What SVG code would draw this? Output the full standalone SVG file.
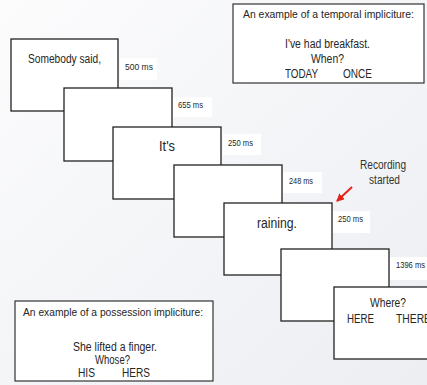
<svg xmlns="http://www.w3.org/2000/svg" width="427" height="385" viewBox="0 0 427 385">
<defs>
<linearGradient id="bg" x1="0" y1="0" x2="1" y2="1">
<stop offset="0" stop-color="#fcfcfd"/>
<stop offset="1" stop-color="#eceef2"/>
</linearGradient>
<marker id="ah" markerWidth="8" markerHeight="8" refX="7" refY="4" orient="auto" markerUnits="userSpaceOnUse">
<path d="M0,0 L8,4 L0,8 z" fill="#e8201a"/>
</marker>
<style>
.slide{fill:#fff;stroke:#222;stroke-width:1.3}
.box{fill:#fff;stroke:#333;stroke-width:1.2}
.lab{fill:#fff}
text{font-family:"Liberation Sans Narrow","Liberation Sans",Arial,sans-serif;fill:#262626}
.ms{font-size:9px}
.big{font-size:14px}
.mid{font-size:12px}
.sm{font-size:11px}
</style>
</defs>
<rect width="427" height="385" fill="url(#bg)"/>
<g id="temporal">
<rect class="box" x="233" y="4" width="191" height="79"/>
<text class="sm" x="243" y="18" textLength="171" lengthAdjust="spacingAndGlyphs">An example of a temporal impliciture:</text>
<text class="mid" x="285" y="48" textLength="85" lengthAdjust="spacingAndGlyphs">I've had breakfast.</text>
<text class="mid" x="311" y="63" textLength="33" lengthAdjust="spacingAndGlyphs">When?</text>
<text class="mid" x="285" y="78" textLength="33" lengthAdjust="spacingAndGlyphs">TODAY</text>
<text class="mid" x="343" y="78" textLength="29" lengthAdjust="spacingAndGlyphs">ONCE</text>
</g>
<g id="slide1">
<rect class="slide" x="11" y="39" width="107" height="72"/>
<text class="mid" x="28" y="63" textLength="73" lengthAdjust="spacingAndGlyphs">Somebody said,</text>
<rect class="lab" x="120" y="58" width="37" height="22"/>
<text class="ms" x="125" y="70" textLength="28" lengthAdjust="spacingAndGlyphs">500 ms</text>
</g>
<g id="slide2">
<rect class="slide" x="64" y="88" width="108" height="73"/>
<rect class="lab" x="173" y="97" width="39" height="20"/>
<text class="ms" x="178" y="108" textLength="25" lengthAdjust="spacingAndGlyphs">655 ms</text>
</g>
<g id="slide3">
<rect class="slide" x="113" y="127" width="108" height="72"/>
<text class="big" x="159" y="151" textLength="16" lengthAdjust="spacingAndGlyphs">It's</text>
<rect class="lab" x="223" y="134" width="38" height="21"/>
<text class="ms" x="228" y="146" textLength="25" lengthAdjust="spacingAndGlyphs">250 ms</text>
</g>
<g id="slide4">
<rect class="slide" x="174" y="165" width="108" height="72"/>
<rect class="lab" x="283" y="172" width="39" height="21"/>
<text class="ms" x="289" y="184" textLength="24" lengthAdjust="spacingAndGlyphs">248 ms</text>
</g>
<g id="slide5">
<rect class="slide" x="224" y="203" width="108" height="72"/>
<text class="big" x="257" y="228" textLength="40" lengthAdjust="spacingAndGlyphs">raining.</text>
<rect class="lab" x="333" y="211" width="37" height="22"/>
<text class="ms" x="338" y="222" textLength="25" lengthAdjust="spacingAndGlyphs">250 ms</text>
</g>
<g id="recording">
<text class="mid" x="383" y="169" text-anchor="middle" style="fill:#333" textLength="46" lengthAdjust="spacingAndGlyphs">Recording</text>
<text class="mid" x="384.5" y="184" text-anchor="middle" style="fill:#333" textLength="31" lengthAdjust="spacingAndGlyphs">started</text>
</g>
<g id="slide6">
<rect class="slide" x="281" y="249" width="108" height="72"/>
<rect class="lab" x="390" y="257" width="40" height="23"/>
<text class="ms" x="396" y="268" textLength="29" lengthAdjust="spacingAndGlyphs">1396 ms</text>
</g>
<g id="slide7">
<rect class="slide" x="334" y="287" width="108" height="72"/>
<text class="mid" x="370" y="307" textLength="36" lengthAdjust="spacingAndGlyphs">Where?</text>
<text class="mid" x="347" y="323" textLength="27" lengthAdjust="spacingAndGlyphs">HERE</text>
<text class="mid" x="396" y="323" textLength="35" lengthAdjust="spacingAndGlyphs">THERE</text>
</g>
<g id="possession">
<rect class="box" x="15" y="301" width="198" height="80"/>
<text class="sm" x="23" y="316" textLength="180" lengthAdjust="spacingAndGlyphs">An example of a possession impliciture:</text>
<text class="mid" x="73" y="351" textLength="84" lengthAdjust="spacingAndGlyphs">She lifted a finger.</text>
<text class="mid" x="95" y="364" textLength="35" lengthAdjust="spacingAndGlyphs">Whose?</text>
<text class="mid" x="78" y="377" textLength="17" lengthAdjust="spacingAndGlyphs">HIS</text>
<text class="mid" x="122" y="377" textLength="28" lengthAdjust="spacingAndGlyphs">HERS</text>
</g>
<g id="connectors">
<line x1="352" y1="187" x2="337" y2="201" stroke="#e8201a" stroke-width="2" marker-end="url(#ah)"/>
</g>
</svg>
